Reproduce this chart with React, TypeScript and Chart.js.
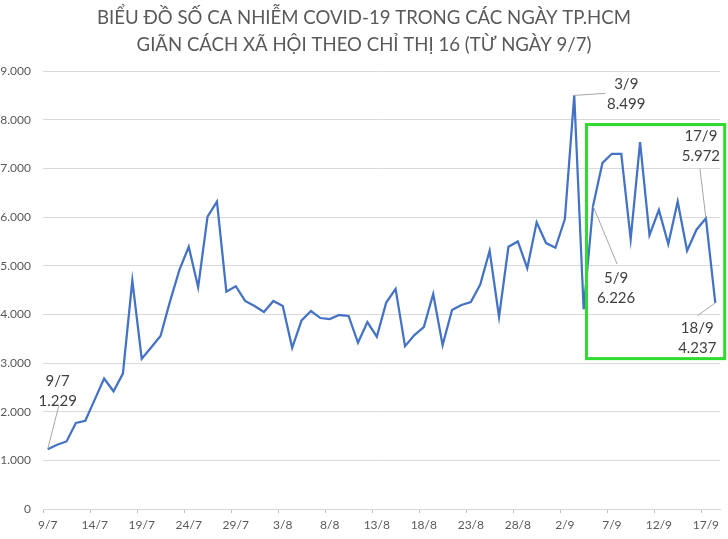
import React, { useEffect, useRef } from "react";
import { Chart, registerables } from "chart.js";

Chart.register(...registerables);

const TITLE_LINES = [
  "BIỂU ĐỒ SỐ CA NHIỄM COVID-19 TRONG CÁC NGÀY TP.HCM",
  "GIÃN CÁCH XÃ HỘI THEO CHỈ THỊ 16 (TỪ NGÀY 9/7)",
];

const DATES: string[] = [
  "9/7", "10/7", "11/7", "12/7", "13/7", "14/7", "15/7", "16/7", "17/7", "18/7",
  "19/7", "20/7", "21/7", "22/7", "23/7", "24/7", "25/7", "26/7", "27/7", "28/7",
  "29/7", "30/7", "31/7", "1/8", "2/8", "3/8", "4/8", "5/8", "6/8", "7/8",
  "8/8", "9/8", "10/8", "11/8", "12/8", "13/8", "14/8", "15/8", "16/8", "17/8",
  "18/8", "19/8", "20/8", "21/8", "22/8", "23/8", "24/8", "25/8", "26/8", "27/8",
  "28/8", "29/8", "30/8", "31/8", "1/9", "2/9", "3/9", "4/9", "5/9", "6/9",
  "7/9", "8/9", "9/9", "10/9", "11/9", "12/9", "13/9", "14/9", "15/9", "16/9",
  "17/9", "18/9",
];

const CASES: number[] = [
  1229, 1320, 1388, 1767, 1814, 2247, 2680, 2419, 2783, 4694,
  3086, 3320, 3553, 4261, 4907, 5388, 4557, 6007, 6316, 4467,
  4577, 4275, 4172, 4048, 4275, 4172, 3313, 3876, 4069, 3924,
  3904, 3986, 3966, 3416, 3842, 3540, 4241, 4522, 3347, 3574,
  3739, 4419, 3368, 4089, 4192, 4254, 4612, 5306, 3945, 5388,
  5498, 4948, 5890, 5464, 5368, 5959, 8499, 4103, 6226, 7113,
  7299, 7299, 5546, 7540, 5629, 6144, 5443, 6316, 5306, 5739,
  5972, 4237,
];

const Y_MAX = 9000;
const Y_STEP = 1000;
const X_LABEL_EVERY = 5;

// Annotated points (index into DATES/CASES) with label offsets (px) relative to the point
const CALLOUTS = [
  { index: 0, dx: 10, dy: -68, lx: 11, ly: -43 },
  { index: 56, dx: 52, dy: -11, lx: 31, ly: -2 },
  { index: 58, dx: 23, dy: 72, lx: 24, ly: 58 },
  { index: 70, dx: -5, dy: -82, lx: -6, ly: -50 },
  { index: 71, dx: -18, dy: 25, lx: -18, ly: 13 },
];

// Highlight box in data coordinates: [x index start, x index end, y top, y bottom]
const HIGHLIGHT_BOX = { x0: 57.3, x1: 72.0, yTop: 7900, yBottom: 3090 };

const fmt = (v: number) => v.toLocaleString("de-DE");

const FONT = "Lato, 'Open Sans', sans-serif";

export default function App() {
  const canvasRef = useRef<HTMLCanvasElement | null>(null);

  useEffect(() => {
    document.body.style.margin = "0";
    const canvas = canvasRef.current;
    if (!canvas) return;

    const overlay = {
      id: "overlay",
      afterDatasetsDraw(chart: any) {
        const ctx = chart.ctx as CanvasRenderingContext2D;
        const xs = chart.scales.x;
        const ys = chart.scales.y;
        ctx.save();
        // title (slightly condensed)
        ctx.fillStyle = "#595959";
        ctx.font = `20px ${FONT}`;
        ctx.textAlign = "center";
        ctx.textBaseline = "middle";
        const sx = 0.93;
        ctx.save();
        ctx.translate(chart.width / 2, 0);
        ctx.scale(sx, 1);
        ctx.fillText(TITLE_LINES[0], 0, 18);
        ctx.fillText(TITLE_LINES[1], 0, 45);
        ctx.restore();

        // highlight box
        const step = xs.getPixelForValue(1) - xs.getPixelForValue(0);
        const bx0 = xs.getPixelForValue(0) + HIGHLIGHT_BOX.x0 * step;
        const bx1 = xs.getPixelForValue(0) + HIGHLIGHT_BOX.x1 * step;
        const by0 = ys.getPixelForValue(HIGHLIGHT_BOX.yTop);
        const by1 = ys.getPixelForValue(HIGHLIGHT_BOX.yBottom);
        ctx.strokeStyle = "#2EDB2E";
        ctx.lineWidth = 3;
        ctx.strokeRect(bx0, by0, bx1 - bx0, by1 - by0);

        // callouts
        const meta = chart.getDatasetMeta(0);
        ctx.font = `15px ${FONT}`;
        CALLOUTS.forEach((c) => {
          const pt = meta.data[c.index];
          const px = pt.x;
          const py = pt.y;
          ctx.strokeStyle = "#a6a6a6";
          ctx.lineWidth = 1;
          ctx.beginPath();
          ctx.moveTo(px, py);
          ctx.lineTo(px + c.lx, py + c.ly);
          ctx.stroke();
          ctx.fillStyle = "#404040";
          ctx.textAlign = "center";
          ctx.textBaseline = "middle";
          ctx.fillText(DATES[c.index], px + c.dx, py + c.dy);
          ctx.fillText(fmt(CASES[c.index]), px + c.dx, py + c.dy + 20);
        });
        ctx.restore();
      },
    };

    const chart = new Chart(canvas, {
      type: "line",
      data: {
        labels: DATES,
        datasets: [
          {
            data: CASES,
            borderColor: "#4472C4",
            borderWidth: 2.25,
            pointRadius: 0,
            tension: 0,
            fill: false,
          },
        ],
      },
      options: {
        animation: false,
        responsive: false,
        maintainAspectRatio: false,
        layout: { padding: { top: 71, right: 8, left: 0, bottom: 0 } },
        plugins: {
          legend: { display: false },
          title: { display: false },
          tooltip: { enabled: false },
        },
        scales: {
          x: {
            offset: true,
            grid: {
              offset: true,
              drawOnChartArea: false,
              drawTicks: true,
              tickLength: 4,
              color: (ctx: any) => (ctx.index % X_LABEL_EVERY === 0 ? "#bfbfbf" : "rgba(0,0,0,0)"),
            },
            border: { display: true, color: "#d9d9d9", width: 1 },
            ticks: {
              autoSkip: false,
              maxRotation: 0,
              minRotation: 0,
              padding: 5,
              color: "#595959",
              font: { family: FONT, size: 12 },
              callback: (_v: any, i: number) => (i % X_LABEL_EVERY === 0 ? DATES[i] : ""),
            },
            afterFit: (s: any) => {
              s.height = 30;
            },
          },
          y: {
            min: 0,
            max: Y_MAX,
            grid: { color: "#d9d9d9", drawTicks: false, lineWidth: 1 },
            border: { display: false },
            ticks: {
              stepSize: Y_STEP,
              padding: 12,
              color: "#595959",
              font: { family: FONT, size: 12 },
              callback: (v: any) => fmt(Number(v)),
            },
            afterFit: (s: any) => {
              s.width = 43;
            },
          },
        },
      },
      plugins: [overlay],
    });

    return () => chart.destroy();
  }, []);

  return (
    <div style={{ width: 728, height: 539, background: "#fff" }}>
      <canvas ref={canvasRef} width={728} height={539} style={{ display: "block" }} />
    </div>
  );
}
